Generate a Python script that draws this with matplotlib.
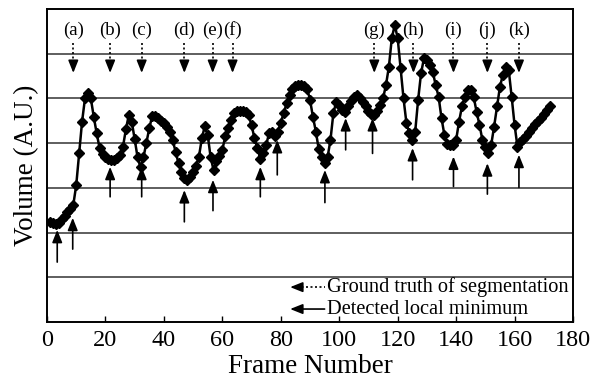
import numpy as np
import matplotlib
matplotlib.use('Agg')
import matplotlib.pyplot as plt

plt.rcParams['font.family'] = ['Liberation Serif', 'DejaVu Serif']

# Volume per frame (A.U.)
frames = np.arange(1, 173)
volume = [2.24, 2.22, 2.20, 2.22, 2.30, 2.38, 2.46, 2.52, 2.62, 3.06,
          3.78, 4.48, 5.00, 5.13, 5.00, 4.59, 4.22, 3.89, 3.76, 3.68,
          3.64, 3.62, 3.63, 3.66, 3.74, 3.92, 4.31, 4.63, 4.48, 4.09,
          3.68, 3.46, 3.68, 4.00, 4.33, 4.61, 4.60, 4.56, 4.50, 4.44,
          4.36, 4.25, 4.07, 3.81, 3.55, 3.35, 3.22, 3.18, 3.25, 3.36,
          3.50, 3.70, 4.11, 4.38, 4.18, 3.68, 3.40, 3.60, 3.71, 3.85,
          4.15, 4.33, 4.52, 4.68, 4.72, 4.71, 4.72, 4.70, 4.62, 4.40,
          4.11, 3.89, 3.64, 3.77, 3.96, 4.22, 4.24, 4.15, 4.26, 4.46,
          4.67, 4.89, 5.08, 5.22, 5.28, 5.30, 5.30, 5.28, 5.22, 4.97,
          4.59, 4.26, 3.86, 3.70, 3.55, 3.68, 4.07, 4.67, 4.93, 4.85,
          4.75, 4.70, 4.82, 4.95, 5.03, 5.08, 5.02, 4.92, 4.82, 4.72,
          4.65, 4.63, 4.72, 4.85, 5.00, 5.30, 5.71, 6.35, 6.64, 6.35,
          5.68, 5.00, 4.45, 4.22, 4.07, 4.26, 4.97, 5.56, 5.90, 5.85,
          5.75, 5.60, 5.30, 5.04, 4.56, 4.18, 3.98, 3.96, 3.96, 4.07,
          4.48, 4.82, 5.04, 5.19, 5.19, 5.04, 4.70, 4.41, 4.07, 3.92,
          3.77, 3.96, 4.37, 4.82, 5.26, 5.53, 5.71, 5.64, 5.04, 4.41,
          3.92, 4.02, 4.10, 4.17, 4.26, 4.34, 4.42, 4.50, 4.57, 4.66,
          4.74, 4.82]

# ground truth of segmentation (dotted arrows, pointing down)
gt_frames = [9, 21.6, 32.4, 47, 56.7, 63.5, 112, 125.4, 139.1, 150.7, 161.5]
gt_labels = ['(a)', '(b)', '(c)', '(d)', '(e)', '(f)',
             '(g)', '(h)', '(i)', '(j)', '(k)']

# detected local minima (solid arrows, pointing up)
det_frames = [3.5, 8.8, 21.6, 32.4, 47, 56.8, 73, 78.8, 95.1, 102.2,
              111.4, 125.1, 139.1, 150.7, 161.5]
det_tip = [2.06, 2.33, 3.47, 3.47, 2.95, 3.18, 3.47, 4.07, 3.40, 4.56,
           4.56, 3.89, 3.70, 3.55, 3.74]
det_tail = [1.34, 1.63, 2.80, 2.80, 2.24, 2.49, 2.80, 3.29, 2.67, 3.85,
            3.77, 3.18, 3.03, 2.86, 3.01]

fig = plt.figure(figsize=(5.97, 3.82), dpi=100)
ax = fig.add_axes([47/597, 1 - 322/382, 526/597, 313/382])

ax.set_xlim(0, 180)
ax.set_ylim(0, 7)
ax.set_xticks(range(0, 181, 20))
ax.set_yticks(range(1, 7))
ax.set_yticklabels([])
ax.tick_params(axis='y', length=0)
ax.tick_params(axis='x', direction='in', length=4, width=1, labelsize=17.5, pad=6)
ax.grid(axis='y', color='#333333', linewidth=1.1)
ax.set_axisbelow(True)
for sp in ax.spines.values():
    sp.set_linewidth(1.4)

ax.plot(frames, volume, color='k', lw=1.8, marker='D', markersize=4.6, zorder=3)

head = dict(arrowstyle='-|>,head_length=0.75,head_width=0.3', color='k',
            lw=1.2, shrinkA=0, shrinkB=0, mutation_scale=10)

# dotted ground-truth arrows with labels
for f, lab in zip(gt_frames, gt_labels):
    ax.plot([f, f], [6.24, 5.75], color='k', lw=1.2, ls=(0, (1.2, 1.5)))
    ax.annotate('', xy=(f, 5.57), xytext=(f, 5.8), arrowprops=head)
    ax.text(f, 6.53, lab, ha='center', va='center', fontsize=13.5)

# solid arrows for detected minima
for f, tp, tl in zip(det_frames, det_tip, det_tail):
    ax.annotate('', xy=(f, tp), xytext=(f, tl), arrowprops=head)

# legend in the bottom band
ax.plot([85.5, 95], [0.78, 0.78], color='k', lw=1.2, ls=(0, (1.2, 1.5)))
ax.annotate('', xy=(83.2, 0.78), xytext=(86.5, 0.78), arrowprops=head)
ax.annotate('', xy=(83.2, 0.29), xytext=(95, 0.29), arrowprops=head)
ax.text(95.8, 0.78, 'Ground truth of segmentation', ha='left', va='center', fontsize=14.7)
ax.text(95.8, 0.29, 'Detected local minimum', ha='left', va='center', fontsize=14.7)

ax.set_xlabel('Frame Number', fontsize=19.5, labelpad=2)
ax.set_ylabel('Volume (A.U.)', fontsize=19.5, labelpad=2)

fig.savefig('out.png', dpi=100)
